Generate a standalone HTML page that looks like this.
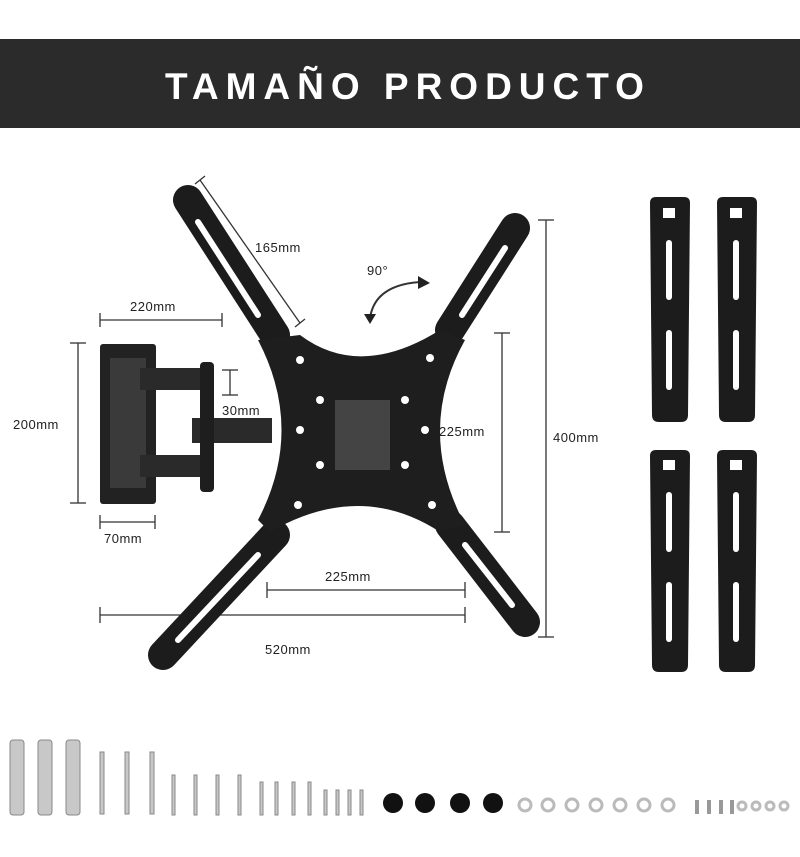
<!DOCTYPE html>
<html><head><meta charset="utf-8"><style>
body{margin:0;background:#fff;}
svg{display:block;}
text{font-family:"Liberation Sans",sans-serif;}
</style></head><body>
<svg width="800" height="857" viewBox="0 0 800 857" xmlns="http://www.w3.org/2000/svg">
<rect width="800" height="857" fill="#fff"/>
<rect x="0" y="39" width="800" height="89" fill="#2b2b2b"/>
<text x="408" y="99" text-anchor="middle" fill="#fff" font-size="37" font-weight="bold" letter-spacing="7">TAMAÑO PRODUCTO</text>

<g stroke="#333" stroke-width="1.3" fill="none">
<line x1="100" y1="320" x2="222" y2="320"/><line x1="100" y1="313" x2="100" y2="327"/><line x1="222" y1="313" x2="222" y2="327"/>
<line x1="78" y1="343" x2="78" y2="503"/><line x1="70" y1="343" x2="86" y2="343"/><line x1="70" y1="503" x2="86" y2="503"/>
<line x1="100" y1="522" x2="155" y2="522"/><line x1="100" y1="515" x2="100" y2="529"/><line x1="155" y1="515" x2="155" y2="529"/>
<line x1="230" y1="370" x2="230" y2="395"/><line x1="222" y1="370" x2="238" y2="370"/><line x1="222" y1="395" x2="238" y2="395"/>
<line x1="200" y1="180" x2="300" y2="323"/><line x1="195" y1="184" x2="205" y2="176"/><line x1="295" y1="327" x2="305" y2="319"/>
<line x1="502" y1="333" x2="502" y2="532"/><line x1="494" y1="333" x2="510" y2="333"/><line x1="494" y1="532" x2="510" y2="532"/>
<line x1="546" y1="220" x2="546" y2="637"/><line x1="538" y1="220" x2="554" y2="220"/><line x1="538" y1="637" x2="554" y2="637"/>
<line x1="267" y1="590" x2="465" y2="590"/><line x1="267" y1="582" x2="267" y2="598"/><line x1="465" y1="582" x2="465" y2="598"/>
<line x1="100" y1="615" x2="465" y2="615"/><line x1="100" y1="607" x2="100" y2="623"/><line x1="465" y1="607" x2="465" y2="623"/>
<path d="M370 318 Q375 285 420 282" stroke-width="2"/>
</g>
<polygon points="364,314 376,314 370,324" fill="#222"/>
<polygon points="418,276 430,283 418,289" fill="#222"/>

<rect x="100" y="344" width="56" height="160" rx="3" fill="#222"/>
<rect x="110" y="358" width="36" height="130" fill="#3a3a3a"/>
<rect x="140" y="368" width="72" height="22" fill="#2a2a2a"/>
<rect x="140" y="455" width="72" height="22" fill="#2a2a2a"/>
<rect x="192" y="418" width="80" height="25" fill="#2a2a2a"/>
<rect x="200" y="362" width="14" height="130" rx="4" fill="#1e1e1e"/>

<g stroke="#1c1c1c" stroke-linecap="round" stroke-width="30">
<line x1="188" y1="200" x2="275" y2="335"/>
<line x1="515" y1="228" x2="450" y2="330"/>
<line x1="163" y1="655" x2="275" y2="535"/>
<line x1="525" y1="622" x2="450" y2="525"/>
</g>
<g stroke="#fff" stroke-linecap="round" stroke-width="6">
<line x1="198" y1="222" x2="258" y2="315"/>
<line x1="505" y1="248" x2="462" y2="315"/>
<line x1="178" y1="640" x2="258" y2="555"/>
<line x1="512" y1="605" x2="465" y2="545"/>
</g>
<path d="M258 340 L300 335 Q360 380 440 330 L465 340 Q415 430 465 525 L440 532 Q360 480 270 532 L258 520 Q305 430 258 340 Z" fill="#1e1e1e"/>
<rect x="335" y="400" width="55" height="70" fill="#444"/>
<g fill="#fff">
<circle cx="300" cy="360" r="4"/><circle cx="430" cy="358" r="4"/><circle cx="298" cy="505" r="4"/><circle cx="432" cy="505" r="4"/>
<circle cx="320" cy="400" r="4"/><circle cx="405" cy="400" r="4"/><circle cx="320" cy="465" r="4"/><circle cx="405" cy="465" r="4"/>
<circle cx="300" cy="430" r="4"/><circle cx="425" cy="430" r="4"/>
</g>

<g font-size="13" fill="#222" letter-spacing="0.5">
<text x="130" y="311">220mm</text>
<text x="13" y="429">200mm</text>
<text x="104" y="543">70mm</text>
<text x="222" y="415">30mm</text>
<text x="255" y="252">165mm</text>
<text x="367" y="275">90°</text>
<text x="439" y="436">225mm</text>
<text x="553" y="442">400mm</text>
<text x="325" y="581">225mm</text>
<text x="265" y="654">520mm</text>
</g>

<g fill="#1c1c1c">
<path d="M650 203 Q650 197 656 197 L684 197 Q690 197 690 203 L688 415 Q688 422 681 422 L659 422 Q652 422 652 415 Z"/>
<path d="M717 203 Q717 197 723 197 L751 197 Q757 197 757 203 L755 415 Q755 422 748 422 L726 422 Q719 422 719 415 Z"/>
<path d="M650 456 Q650 450 656 450 L684 450 Q690 450 690 456 L688 665 Q688 672 681 672 L659 672 Q652 672 652 665 Z"/>
<path d="M717 456 Q717 450 723 450 L751 450 Q757 450 757 456 L755 665 Q755 672 748 672 L726 672 Q719 672 719 665 Z"/>
</g>
<g fill="#fff">
<rect x="663" y="208" width="12" height="10"/><rect x="730" y="208" width="12" height="10"/>
<rect x="663" y="460" width="12" height="10"/><rect x="730" y="460" width="12" height="10"/>
<rect x="666" y="240" width="6" height="60" rx="3"/><rect x="666" y="330" width="6" height="60" rx="3"/>
<rect x="733" y="240" width="6" height="60" rx="3"/><rect x="733" y="330" width="6" height="60" rx="3"/>
<rect x="666" y="492" width="6" height="60" rx="3"/><rect x="666" y="582" width="6" height="60" rx="3"/>
<rect x="733" y="492" width="6" height="60" rx="3"/><rect x="733" y="582" width="6" height="60" rx="3"/>
</g>

<g fill="#c8c8c8" stroke="#888" stroke-width="1">
<rect x="10" y="740" width="14" height="75" rx="3"/><rect x="38" y="740" width="14" height="75" rx="3"/><rect x="66" y="740" width="14" height="75" rx="3"/>
<rect x="100" y="752" width="4" height="62"/><rect x="125" y="752" width="4" height="62"/><rect x="150" y="752" width="4" height="62"/>
<rect x="172" y="775" width="3" height="40"/><rect x="194" y="775" width="3" height="40"/><rect x="216" y="775" width="3" height="40"/><rect x="238" y="775" width="3" height="40"/>
<rect x="260" y="782" width="3" height="33"/><rect x="275" y="782" width="3" height="33"/><rect x="292" y="782" width="3" height="33"/><rect x="308" y="782" width="3" height="33"/>
<rect x="324" y="790" width="3" height="25"/><rect x="336" y="790" width="3" height="25"/><rect x="348" y="790" width="3" height="25"/><rect x="360" y="790" width="3" height="25"/>
</g>
<g fill="#111"><circle cx="393" cy="803" r="10"/><circle cx="425" cy="803" r="10"/><circle cx="460" cy="803" r="10"/><circle cx="493" cy="803" r="10"/></g>
<g fill="none" stroke="#bbb" stroke-width="3">
<circle cx="525" cy="805" r="6"/><circle cx="548" cy="805" r="6"/><circle cx="572" cy="805" r="6"/><circle cx="596" cy="805" r="6"/><circle cx="620" cy="805" r="6"/><circle cx="644" cy="805" r="6"/><circle cx="668" cy="805" r="6"/>
<circle cx="742" cy="806" r="4"/><circle cx="756" cy="806" r="4"/><circle cx="770" cy="806" r="4"/><circle cx="784" cy="806" r="4"/>
</g>
<g fill="#999"><rect x="695" y="800" width="4" height="14"/><rect x="707" y="800" width="4" height="14"/><rect x="719" y="800" width="4" height="14"/><rect x="730" y="800" width="4" height="14"/></g>
</svg>
</body></html>
